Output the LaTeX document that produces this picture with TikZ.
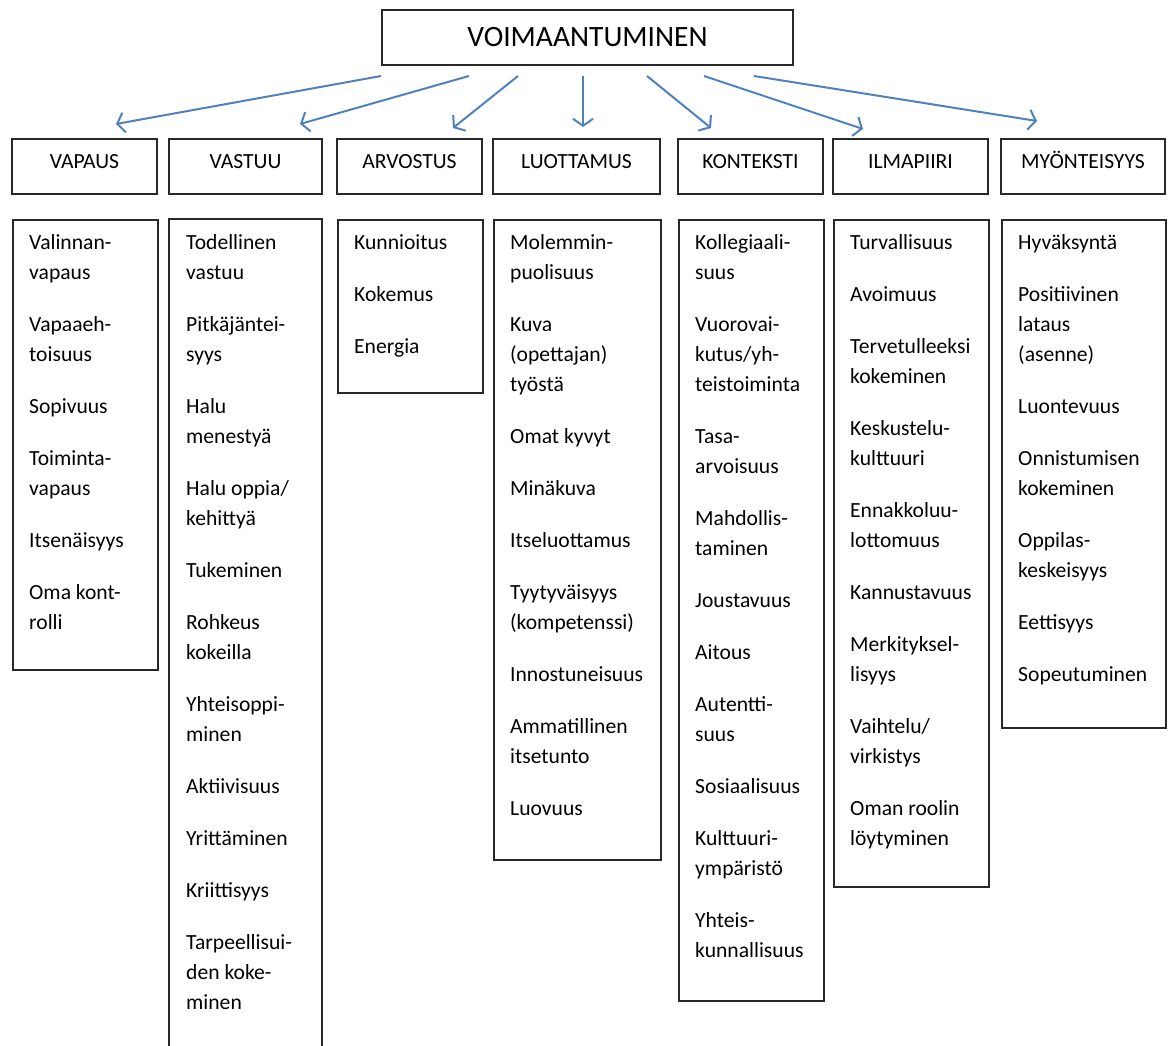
\documentclass[tikz,border=0pt]{standalone}
\usepackage{fontspec}
\setmainfont{Carlito}
\usetikzlibrary{arrows.meta}
\definecolor{arrowblue}{RGB}{79,129,189}
\definecolor{boxline}{RGB}{40,40,40}
\begin{document}
\begin{tikzpicture}[x=1pt,y=-1pt,
  box/.style={draw=boxline, line width=1.6pt, inner sep=0pt},
  item/.style={anchor=base west, inner sep=0pt, font=\fontsize{21.6}{25}\selectfont},
  head/.style={box, minimum height=55pt, text height=20pt, text depth=17pt, font=\fontsize{21.6}{25}\selectfont},
  title/.style={box, minimum width=411pt, minimum height=55pt, font=\fontsize{29.5}{32}\selectfont},
  conn/.style={draw=arrowblue, line width=2pt, -{Straight Barb[length=7pt,width=20pt,line width=2pt]}}]
\useasboundingbox (0,0) rectangle (1168,1045);

% title
\node[title] (top) at (587.5,37.5) {VOIMAANTUMINEN};

% headers
\node[head, minimum width=145pt] (h1) at (84.5,166.5) {VAPAUS};
\node[head, minimum width=153pt] (h2) at (245.5,166.5) {VASTUU};
\node[head, minimum width=145pt] (h3) at (409.5,166.5) {ARVOSTUS};
\node[head, minimum width=167pt] (h4) at (576.5,166.5) {LUOTTAMUS};
\node[head, minimum width=145pt] (h5) at (750.5,166.5) {KONTEKSTI};
\node[head, minimum width=155pt] (h6) at (910.5,166.5) {ILMAPIIRI};
\node[head, minimum width=164pt] (h7) at (1083,166.5) {MYÖNTEISYYS};

% arrows
\coordinate (s1) at (381,76);  \coordinate (e1) at (116,124);
\coordinate (s2) at (469,76);  \coordinate (e2) at (300,124);
\coordinate (s3) at (518,76);  \coordinate (e3) at (453,128);
\coordinate (s4) at (583,76);  \coordinate (e4) at (583,127);
\coordinate (s5) at (647,76);  \coordinate (e5) at (711,128);
\coordinate (s6) at (704,76);  \coordinate (e6) at (863,129);
\coordinate (s7) at (754,76);  \coordinate (e7) at (1037,121);
\foreach \i in {1,...,7} \draw[conn] (s\i) -- (e\i);

% content boxes
\node[box, anchor=north west, minimum width=145pt, minimum height=450pt] (b1) at (12,219) {};
\draw[draw=boxline, line width=1.6pt] (169,1050) |- (322,219) -- (322,1050);
\node[box, anchor=north west, minimum width=145pt, minimum height=173pt] (b3) at (337,219) {};
\node[box, anchor=north west, minimum width=167pt, minimum height=640pt] (b4) at (493,219) {};
\node[box, anchor=north west, minimum width=145pt, minimum height=781pt] (b5) at (678,219) {};
\node[box, anchor=north west, minimum width=155pt, minimum height=667pt] (b6) at (833,219) {};
\node[box, anchor=north west, minimum width=164pt, minimum height=508pt] (b7) at (1001,219) {};

% items
\foreach \y/\t [count=\i] in {249/{Valinnan-},279/{vapaus},331/{Vapaaeh-},361/{toisuus},413/{Sopivuus},465/{Toiminta-},495/{vapaus},547/{Itsenäisyys},599/{Oma kont-},629/{rolli}}
  \node[item] (vapaus\i) at (29,\y) {\t};

\foreach \y/\t [count=\i] in {249/{Todellinen},279/{vastuu},331/{Pitkäjäntei-},361/{syys},413/{Halu},443/{menestyä},495/{Halu oppia/},525/{kehittyä},577/{Tukeminen},629/{Rohkeus},659/{kokeilla},711/{Yhteisoppi-},741/{minen},793/{Aktiivisuus},845/{Yrittäminen},897/{Kriittisyys},949/{Tarpeellisui-},979/{den koke-},1009/{minen}}
  \node[item] (vastuu\i) at (186,\y) {\t};

\foreach \y/\t [count=\i] in {249/{Kunnioitus},301/{Kokemus},353/{Energia}}
  \node[item] (arvostus\i) at (354,\y) {\t};

\foreach \y/\t [count=\i] in {249/{Molemmin-},279/{puolisuus},331/{Kuva},361/{(opettajan)},391/{työstä},443/{Omat kyvyt},495/{Minäkuva},547/{Itseluottamus},599/{Tyytyväisyys},629/{(kompetenssi)},681/{Innostuneisuus},733/{Ammatillinen},763/{itsetunto},815/{Luovuus}}
  \node[item] (luottamus\i) at (510,\y) {\t};

\foreach \y/\t [count=\i] in {249/{Kollegiaali-},279/{suus},331/{Vuorovai-},361/{kutus/yh-},391/{teistoiminta},443/{Tasa-},473/{arvoisuus},525/{Mahdollis-},555/{taminen},607/{Joustavuus},659/{Aitous},711/{Autentti-},741/{suus},793/{Sosiaalisuus},845/{Kulttuuri-},875/{ympäristö},927/{Yhteis-},957/{kunnallisuus}}
  \node[item] (konteksti\i) at (695,\y) {\t};

\foreach \y/\t [count=\i] in {249/{Turvallisuus},301/{Avoimuus},353/{Tervetulleeksi},383/{kokeminen},435/{Keskustelu-},465/{kulttuuri},517/{Ennakkoluu-},547/{lottomuus},599/{Kannustavuus},651/{Merkityksel-},681/{lisyys},733/{Vaihtelu/},763/{virkistys},815/{Oman roolin},845/{löytyminen}}
  \node[item] (ilmapiiri\i) at (850,\y) {\t};

\foreach \y/\t [count=\i] in {249/{Hyväksyntä},301/{Positiivinen},331/{lataus},361/{(asenne)},413/{Luontevuus},465/{Onnistumisen},495/{kokeminen},547/{Oppilas-},577/{keskeisyys},629/{Eettisyys},681/{Sopeutuminen}}
  \node[item] (myonteisyys\i) at (1018,\y) {\t};
\end{tikzpicture}
\end{document}
